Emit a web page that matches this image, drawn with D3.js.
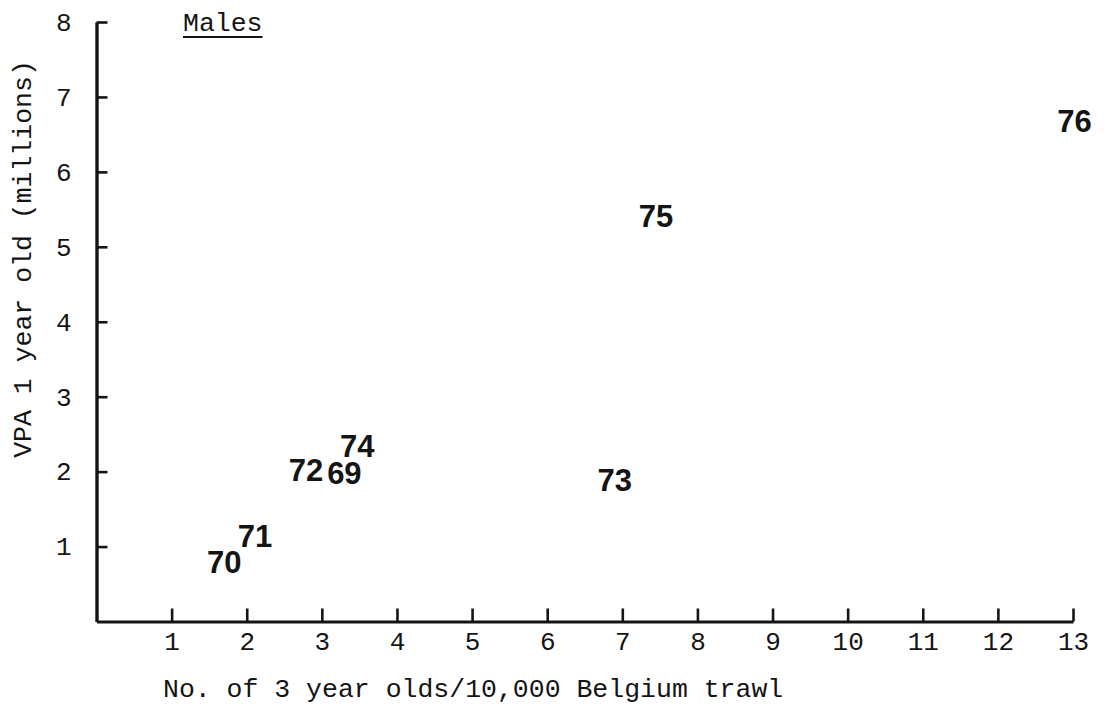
<!DOCTYPE html>
<html>
<head>
<meta charset="utf-8">
<script src="https://cdn.jsdelivr.net/npm/d3@7/dist/d3.min.js"></script>
<style>
  html, body { margin: 0; padding: 0; background: #fff; }
  svg { display: block; }
</style>
</head>
<body>
<svg id="chart" width="1104" height="706"></svg>
<script>
// ---- data ----
const yearLabels = ["70", "71", "72", "69", "74", "73", "75", "76"];
const belgiumTrawl = [1.70, 2.11, 2.79, 3.30, 3.47, 6.90, 7.45, 13.02];   // No. of 3 year olds / 10,000
const vpaOneYear   = [0.79, 1.13, 2.02, 1.98, 2.34, 1.88, 5.40, 6.67];    // millions
const xTickValues = [1, 2, 3, 4, 5, 6, 7, 8, 9, 10, 11, 12, 13];
const yTickValues = [1, 2, 3, 4, 5, 6, 7, 8];
const xTitle = "No. of 3 year olds/10,000 Belgium trawl";
const yTitle = "VPA 1 year old (millions)";
const panelTitle = "Males";

const svg = d3.select("#chart");
const ink = "#141414";
const typeFont = "'Liberation Mono', 'DejaVu Sans Mono', monospace";
const labelFont = "'Liberation Sans', Arial, sans-serif";

const x = d3.scaleLinear().domain([0, 13]).range([96.5, 1073]);
const y = d3.scaleLinear().domain([0, 8]).range([621.5, 22]);

// x axis, ticks pointing up
const xAxis = svg.append("g")
  .attr("transform", `translate(0,${y(0)})`)
  .call(d3.axisBottom(x).tickValues(xTickValues).tickSizeInner(-13).tickSizeOuter(0).tickPadding(10));
xAxis.select(".domain").attr("stroke", ink).attr("stroke-width", 3);
xAxis.selectAll(".tick line").attr("stroke", ink).attr("stroke-width", 2.6);
xAxis.selectAll(".tick text")
  .attr("fill", ink).style("font-family", typeFont).style("font-size", "26px");

// y axis, ticks pointing right
const yAxis = svg.append("g")
  .attr("transform", `translate(${x(0)},0)`)
  .call(d3.axisLeft(y).tickValues(yTickValues).tickSizeInner(-11).tickSizeOuter(0).tickPadding(25));
yAxis.select(".domain").attr("stroke", ink).attr("stroke-width", 3.4);
yAxis.selectAll(".tick line").attr("stroke", ink).attr("stroke-width", 2.6);
yAxis.selectAll(".tick text")
  .attr("fill", ink).style("font-family", typeFont).style("font-size", "26px");

// axis titles
svg.append("text")
  .attr("x", 163).attr("y", 697)
  .attr("fill", ink)
  .style("font-family", typeFont).style("font-size", "26.5px")
  .text(xTitle);

svg.append("text")
  .attr("transform", `translate(31,${259}) rotate(-90)`)
  .attr("text-anchor", "middle")
  .attr("fill", ink)
  .style("font-family", typeFont).style("font-size", "26.5px")
  .text(yTitle);

// panel title, underlined
const males = svg.append("text")
  .attr("x", 183).attr("y", 31)
  .attr("fill", ink)
  .style("font-family", typeFont).style("font-size", "26.5px")
  .text(panelTitle);
const mb = males.node().getBBox();
svg.append("line")
  .attr("x1", mb.x).attr("x2", mb.x + mb.width)
  .attr("y1", 37).attr("y2", 37)
  .attr("stroke", ink).attr("stroke-width", 2);

// data points drawn as year labels
const pts = yearLabels.map((lab, i) => ({ lab, xv: belgiumTrawl[i], yv: vpaOneYear[i] }));
svg.append("g").selectAll("text")
  .data(pts)
  .join("text")
  .attr("x", d => x(d.xv))
  .attr("y", d => y(d.yv))
  .attr("text-anchor", "middle")
  .attr("dominant-baseline", "central")
  .attr("fill", ink)
  .style("font-family", labelFont)
  .style("font-weight", "bold")
  .style("font-size", "31px")
  .text(d => d.lab);
</script>
</body>
</html>
